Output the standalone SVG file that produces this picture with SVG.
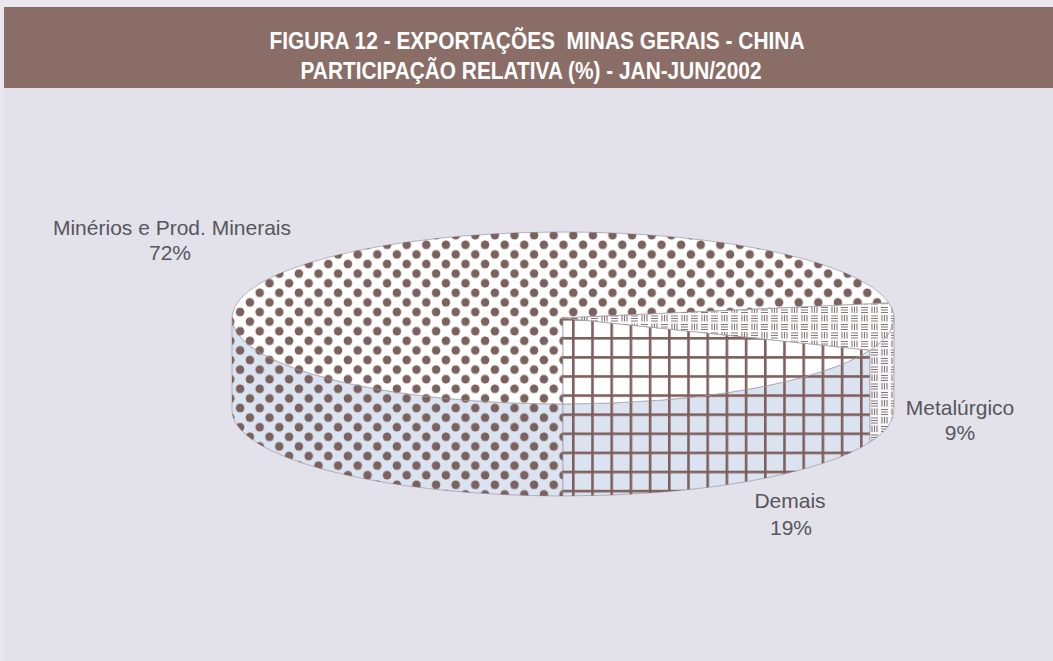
<svg xmlns="http://www.w3.org/2000/svg" width="1053" height="661" viewBox="0 0 1053 661">
<defs>
<pattern id="dots" patternUnits="userSpaceOnUse" x="0" y="0" width="19.6" height="19.2">
<circle cx="4.9" cy="4.8" r="4.3" fill="#7b625f"/>
<circle cx="14.7" cy="14.4" r="4.3" fill="#7b625f"/>
</pattern>
<pattern id="grid" patternUnits="userSpaceOnUse" x="572" y="337" width="19.2" height="19.1">
<rect x="0" y="0" width="2.6" height="19.1" fill="#7e5f5c"/>
<rect x="0" y="0" width="19.2" height="2.6" fill="#7e5f5c"/>
</pattern>
<pattern id="stripes" patternUnits="userSpaceOnUse" x="0" y="0" width="20" height="17">
<g stroke="#857678" stroke-width="1.1" fill="none">
<path d="M1 1.5H8M1 4H8M1 6.5H8"/>
<path d="M12 0.5V7M14.5 0.5V7M17 0.5V7"/>
<path d="M2 9V15.5M4.5 9V15.5M7 9V15.5"/>
<path d="M11 10H18M11 12.5H18M11 15H18"/>
</g>
</pattern>
</defs>
<style>
.hdr{font-family:"Liberation Sans",Arial,sans-serif;font-weight:bold;font-size:23px;fill:#ffffff;white-space:pre}
.lbl{font-family:"Liberation Sans",Arial,sans-serif;font-size:21px;fill:#56565c}
.edge{stroke:#a3a1ad;stroke-width:0.8}
.top{fill:#ffffff}
.side{fill:#dce3f0}
.sidew{fill:#f7f7fa}
</style>
<rect x="0" y="0" width="1053" height="661" fill="#e9e7ed"/>
<rect x="4" y="88" width="1049" height="573" fill="#e3e1ea"/>
<g id="header">
<rect x="4" y="7" width="1049" height="81" fill="#8a6d66"/>
<text class="hdr" x="537" y="49" text-anchor="middle" textLength="535" lengthAdjust="spacingAndGlyphs" xml:space="preserve">FIGURA 12 - EXPORTAÇÕES  MINAS GERAIS - CHINA</text>
<text class="hdr" x="531" y="79" text-anchor="middle" textLength="461" lengthAdjust="spacingAndGlyphs">PARTICIPAÇÃO RELATIVA (%) - JAN-JUN/2002</text>
</g>
<g id="pie">
<g id="slice-minerios">
<path class="side edge" d="M563,404 A331,86 0 0 1 232,318 L232,410 A331,86 0 0 0 563,496 Z"/>
<path d="M563,404 A331,86 0 0 1 232,318 L232,410 A331,86 0 0 0 563,496 Z" fill="url(#dots)"/>
<path class="top edge" d="M563,318 L563,404 A331,86 0 1 1 889,303 Z"/>
<path d="M563,318 L563,404 A331,86 0 1 1 889,303 Z" fill="url(#dots)"/>
</g>
<g id="slice-demais">
<path class="side edge" d="M870,350.2 A331,86 0 0 1 563,404 L563,496 A331,86 0 0 0 870,442.2 Z"/>
<path d="M870,350.2 A331,86 0 0 1 563,404 L563,496 A331,86 0 0 0 870,442.2 Z" fill="url(#grid)"/>
<path class="top edge" d="M563,318 L870,350.2 A331,86 0 0 1 563,404 Z"/>
<path d="M563,318 L870,350.2 A331,86 0 0 1 563,404 Z" fill="url(#grid)"/>
</g>
<g id="slice-metalurgico">
<path class="sidew edge" d="M894,318 A331,86 0 0 1 870,350.2 L870,442.2 A331,86 0 0 0 894,410 Z"/>
<path d="M894,318 A331,86 0 0 1 870,350.2 L870,442.2 A331,86 0 0 0 894,410 Z" fill="url(#stripes)"/>
<path class="top edge" d="M563,318 L889,303 A331,86 0 0 1 870,350.2 Z"/>
<path d="M563,318 L889,303 A331,86 0 0 1 870,350.2 Z" fill="url(#stripes)"/>
</g>
</g>
<g id="labels">
<text class="lbl" x="172" y="235" text-anchor="middle">Minérios e Prod. Minerais</text>
<text class="lbl" x="170" y="260" text-anchor="middle">72%</text>
<text class="lbl" x="960" y="415" text-anchor="middle">Metalúrgico</text>
<text class="lbl" x="960" y="440" text-anchor="middle">9%</text>
<text class="lbl" x="790" y="508" text-anchor="middle">Demais</text>
<text class="lbl" x="791" y="535" text-anchor="middle">19%</text>
</g>
</svg>
